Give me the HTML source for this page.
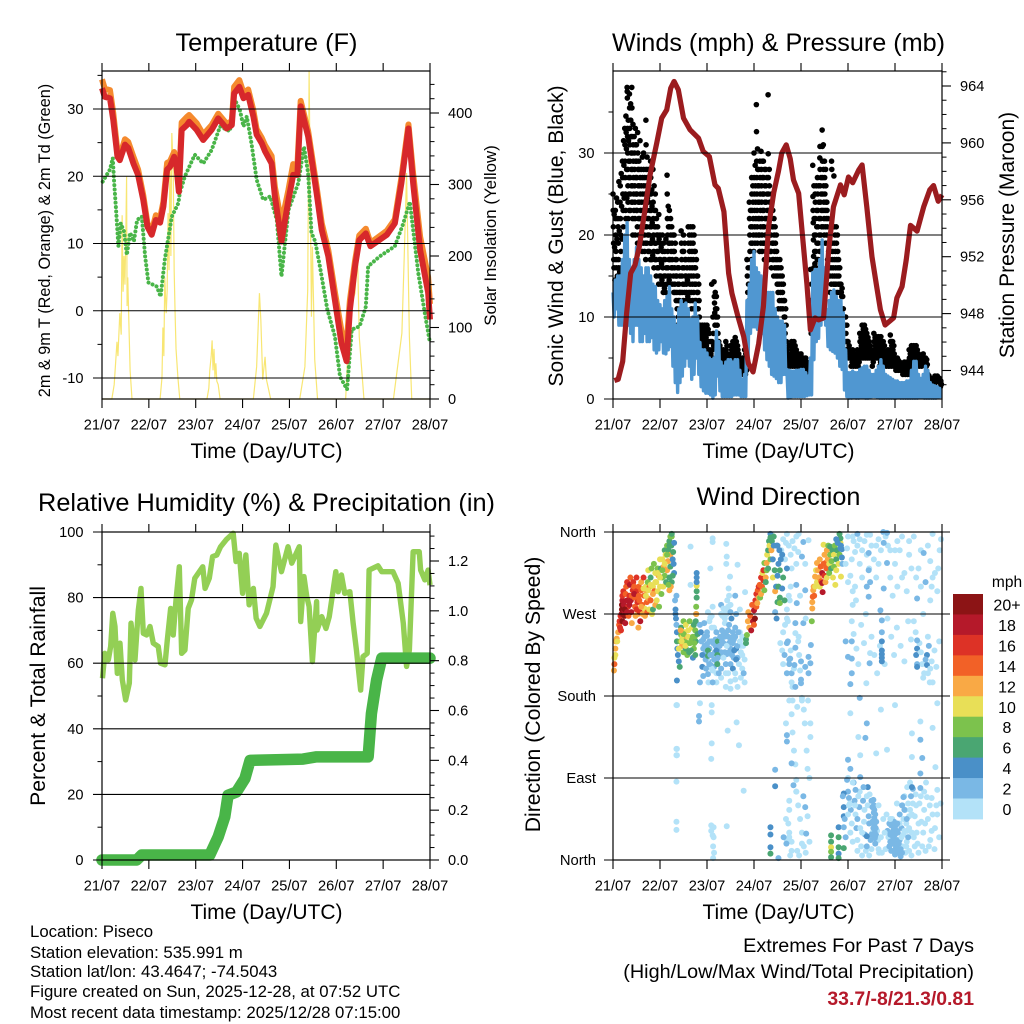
<!DOCTYPE html>
<html lang="en">
<head>
<meta charset="utf-8">
<title>Piseco station weather</title>
<style>
html,body{margin:0;padding:0;background:#fff;}
svg{display:block;font-family:"Liberation Sans",sans-serif;fill:#000;}
</style>
</head>
<body>
<svg id="fig" width="1024" height="1024" viewBox="0 0 1024 1024" xmlns="http://www.w3.org/2000/svg">
  <rect x="0" y="0" width="1024" height="1024" fill="#fff"/>
  <g id="p1"></g>
  <g id="p2"></g>
  <g id="p3"></g>
  <g id="p4"></g>
  <g id="legend"></g>

  <text x="266.5" y="51" font-size="25.4" text-anchor="middle">Temperature (F)</text>
  <text x="778.5" y="51" font-size="25.2" text-anchor="middle">Winds (mph) &amp; Pressure (mb)</text>
  <text x="266.5" y="511" font-size="25.3" text-anchor="middle">Relative Humidity (%) &amp; Precipitation (in)</text>
  <text x="778.5" y="505" font-size="25.2" text-anchor="middle">Wind Direction</text>

  <text x="266.5" y="458" font-size="21" text-anchor="middle">Time (Day/UTC)</text>
  <text x="778.5" y="458" font-size="21" text-anchor="middle">Time (Day/UTC)</text>
  <text x="266.5" y="919" font-size="21" text-anchor="middle">Time (Day/UTC)</text>
  <text x="778.5" y="919" font-size="21" text-anchor="middle">Time (Day/UTC)</text>

  <text transform="translate(50,240.5) rotate(-90)" font-size="16.25" text-anchor="middle">2m &amp; 9m T (Red, Orange) &amp; 2m Td (Green)</text>
  <text transform="translate(496,235.5) rotate(-90)" font-size="16.9" text-anchor="middle">Solar Insolation (Yellow)</text>
  <text transform="translate(563,236) rotate(-90)" font-size="21" text-anchor="middle">Sonic Wind &amp; Gust (Blue, Black)</text>
  <text transform="translate(1014,235) rotate(-90)" font-size="21" text-anchor="middle">Station Pressure (Maroon)</text>
  <text transform="translate(45,696) rotate(-90)" font-size="21.2" text-anchor="middle">Percent &amp; Total Rainfall</text>
  <text transform="translate(540,694.5) rotate(-90)" font-size="21.2" text-anchor="middle">Direction (Colored By Speed)</text>

  <text x="30" y="937" font-size="16.8">Location: Piseco</text>
  <text x="30" y="958" font-size="16.8">Station elevation: 535.991 m</text>
  <text x="30" y="977" font-size="16.8">Station lat/lon: 43.4647; -74.5043</text>
  <text x="30" y="997" font-size="16.8">Figure created on Sun, 2025-12-28, at 07:52 UTC</text>
  <text x="30" y="1018" font-size="16.8">Most recent data timestamp: 2025/12/28 07:15:00</text>

  <text x="974" y="952" font-size="19.8" text-anchor="end">Extremes For Past 7 Days</text>
  <text x="974" y="978" font-size="19.8" text-anchor="end">(High/Low/Max Wind/Total Precipitation)</text>
  <text x="974" y="1005" font-size="19.4" font-weight="bold" text-anchor="end" fill="#b5192a">33.7/-8/21.3/0.81</text>
</svg>

<script>
// ---- shared axis data ----
const dayLabels = ['21/07','22/07','23/07','24/07','25/07','26/07','27/07','28/07'];
const dayTicks = [0,1,2,3,4,5,6,7];

// ---- temperature panel ----
const tempTicks = [-10,0,10,20,30];
const tempMinorTicks = [-5,5,15,25,35];
const solarTicks = [0,100,200,300,400];
const solarMinorTicks = [20,40,60,80,120,140,160,180,220,240,260,280,320,340,360,380,420,440];
const tempDays = [0,.06,.17,.24,.33,.38,.49,.56,.67,.77,.88,.97,1.06,1.15,1.24,1.31,1.39,1.45,1.54,1.59,1.64,1.7,1.81,1.86,2.02,2.16,2.34,2.48,2.66,2.77,2.82,2.93,3.02,3.12,3.23,3.3,3.41,3.48,3.62,3.69,3.83,3.98,4.08,4.17,4.24,4.4,4.58,4.69,4.83,4.97,5.11,5.22,5.29,5.4,5.49,5.63,5.73,6.08,6.25,6.39,6.54,6.64,6.79,6.96,7];
const temp2m = [33.1,31.8,31.6,28.4,22.9,22.4,24.7,24.2,21.9,20.2,16.5,12.5,11.3,13.5,13.1,15.5,21,21.4,22.9,21.4,17.7,26.9,27.6,28.1,26.9,25.4,26.9,28.6,27.1,27.6,32.3,33.3,31.6,32.1,28.9,26.2,24.9,23.7,21.9,17,10.3,16.5,20.2,20.2,30.4,25.9,17.5,12,8.1,1.6,-4.8,-7.5,.15,6.6,10.5,11.5,9.6,11.3,13,19,27.1,19,9,2.7,-1.3];
const temp9m = [34.4,33,32.8,29.4,23.7,23,25.5,25.1,22.9,21,17.2,13,11.8,14.2,13.8,16.2,22,22.2,23.6,22,18.3,28,28.8,29.1,27.9,26.2,27.6,29.3,27.8,28.2,33.3,34.3,32.4,32.9,29.8,27,25.7,24.6,23,18.4,13,18,21.8,21.6,31.2,26.7,18.4,13,9,2.8,-3,-5,1.5,7.4,11.2,12.2,10.1,11.9,13.6,19.8,27.7,20.4,11,5,1];
const dewDays = [.015,.1,.17,.23,.26,.3,.35,.4,.47,.53,.6,.68,.75,.85,.92,.99,1.17,1.25,1.34,1.49,1.63,1.66,1.77,1.98,2.16,2.34,2.52,2.73,2.82,2.94,3.02,3.09,3.19,3.3,3.44,3.59,3.73,3.83,3.98,4.19,4.31,4.4,4.47,4.55,4.65,4.81,4.97,5.08,5.23,5.33,5.5,5.63,5.68,5.93,6.25,6.43,6.57,6.75,6.9,7];
const dewPoint = [19.2,20.2,21,22.7,19,15,9.6,13,11.8,8.3,11.6,10.3,13.5,14,8.1,4.2,3.6,2.1,7.6,14,16,17.5,20,23.2,21.9,23.9,27.4,26.7,31.6,29.9,27.4,28.9,24.9,19.5,16.5,17,13.5,5.1,15,19,24.4,20.4,11.6,10.3,6.6,.15,-3.8,-9.8,-11.7,-2.8,-2.3,.6,6.6,8.1,9.6,13,16.2,5.6,-.8,-4.8];
const solarDays = [0,.21,.26,.32,.34,.38,.41,.43,.45,.47,.49,.51,.525,.535,.55,.58,.6,.64,1.24,1.28,1.3,1.32,1.34,1.37,1.39,1.41,1.43,1.45,1.47,1.49,1.52,1.54,1.56,1.58,1.62,1.66,2.24,2.28,2.3,2.33,2.35,2.37,2.39,2.41,2.43,2.45,2.48,2.52,3.23,3.3,3.36,3.39,3.43,3.48,3.51,3.6,4.22,4.33,4.39,4.42,4.47,4.49,4.54,4.6,5.2,5.29,5.4,5.45,5.49,5.59,6.22,6.4,6.45,6.5,6.56,6.61,7];
const solarValues = [0,0,20,80,60,120,90,257,150,200,160,240,311,130,170,90,40,0,0,30,100,60,170,120,150,260,180,340,200,372,320,180,120,70,30,0,0,15,40,60,82,40,70,30,50,25,20,0,0,45,148,110,27,59,27,0,0,45,152,458,115,213,55,0,0,124,148,213,87,0,0,92,199,316,87,0,0];

// ---- winds panel ----
const windTicks = [0,10,20,30];
const windMinorTicks = [5,15,25,35];
const pressureTicks = [944,948,952,956,960,964];
const pressureMinorTicks = [943,945,946,947,949,950,951,953,954,955,957,958,959,961,962,963,965];
const pressureDays = [.03,.11,.206,.29,.376,.469,.56,.68,.788,.93,1.036,1.143,1.228,1.3,1.39,1.5,1.64,1.82,1.92,2.05,2.17,2.24,2.36,2.46,2.53,2.65,2.78,2.88,2.98,3.1,3.2,3.31,3.42,3.52,3.59,3.686,3.77,3.84,3.95,4.02,4.125,4.2,4.3,4.375,4.48,4.59,4.69,4.84,4.92,5.01,5.1,5.23,5.3,5.4,5.51,5.62,5.69,5.79,5.97,6.04,6.15,6.24,6.33,6.47,6.61,6.74,6.82,6.92,7];
const pressureValues = [943.29,943.38,944.63,948.03,950.84,951.42,952.71,955.29,957.75,959.98,961.74,962.32,963.85,964.32,963.73,961.74,960.92,960.33,959.4,959.04,957.05,956.8,955.17,950.84,949.43,947.9,946.4,944.5,943.9,945.9,948.5,954.1,956.5,958,959.28,959.86,958.9,957.4,956.46,953.9,950.1,946.85,947.7,947.56,947.7,952.5,955.5,957.05,956.35,957.6,957.2,958.1,958.45,955.5,952,949.7,948.26,947.2,947.7,949.1,949.9,951.8,954.2,953.8,955.5,956.7,957,955.9,956.35];
const windStepDays = 0.05;
const windHigh = [13,14.5,15,15,17,20,21.5,17,15,17,18.5,17,16,15,16,16,15,14,13.7,12,11.5,11,12,12.5,13.7,11,10,9,11,12,11.5,11.7,11,9.7,10,11.7,10,6.9,6,6,5.6,5,4.8,5,8.3,7,4.5,4,4.5,4.8,4.8,4.5,4.8,4.8,3.5,2.4,3,12,14,17,18,16,15.4,15,14,13,13,13,13,11,10,9.5,9.5,9,3.6,3.5,3.4,3.4,3.5,3.5,3.6,3.6,3.2,2.8,5,15.4,15.8,15.8,17,19.4,16,10.9,12,13,13.3,12.5,12,12,10.5,6,3.2,3.2,3.4,3.2,3.2,3.6,3.8,4,4,3.5,3,3,3.5,4,4.8,4,3,2.8,2.6,2.4,2.2,2.2,2,2,2,2.2,2.2,3.5,4.6,4.6,3,2.5,3,4,3.5,2,1.7,1.6,1.5,1.3];
const windLow = [10,11,9,9,9,10,9,8,7,9,9,7,7,8,7,7,7.5,6,5.6,6,7,5.6,5.5,6,6.4,4,2,.8,2,2.8,4,5,4,2.4,3,5,3,1.5,1,.7,.7,.5,.1,.5,2.8,1,.3,.3,.3,.3,.3,.5,.5,.5,.3,.3,.3,5,8,8.8,8.8,8.5,8.4,8,6,4.8,4,3,2.8,2.5,2,2,3,3,.1,.2,.3,.3,.3,.3,.3,.3,.4,.5,.5,4.8,7,7.4,9,9.7,9,6.4,6,5.8,5.6,5,4,3.6,1.1,.3,.1,.1,.2,.1,.1,.2,.2,.1,.1,.2,.3,.3,.2,.1,.1,.1,.1,.1,.1,.1,.1,.2,.1,.1,.1,.1,.1,.1,.1,.1,.2,.2,.1,.1,.1,.1,.1,.1,.2,.1];
const gustBins = [
[25,23,21,19,17,16],[23,22,20,18,17,16],[24,22,21,19,17,16],[24,26,22,20,18,16],[29,27,25,23,21],[33,31,29,27,25,23,22],[38,37.5,36.7,33,32,30,28,26,24,22],[37.2,35.5,33,31,29,27,25,23],[38,35.5,32,30,28,26,24,22,20],[32,30,28,26,24,22,20],
[31,29,27,25,23,21,19],[29,28,26,24,22,20],[28,26,24,22,20,18],[30,28,26,24,22,20,18],[34,31,28,26,23,21,19],[28,26,24,22,20,18],[29,27,25,23,21,19,17],[28,24,22,20,18,16],[25,23,21,19,17,15],[21,20,18,16,14],
[20,19,17,15,14],[20,18,16,14,13],[18,17,15,13],[27.3,25,22,20,18,16,15],[23,21,19,17,15,14],[21,19,17,16,14],[20,18,16,14,13],[17,15,13,11,9],[16,14,13,12,10],[20.5,19,17,15,13],
[20,18,16,14,13],[17,15,14,13,12],[21,19,17,15,13],[21,19,17,15,13,11],[21,19,17,15,13,11],[18,16,14,12],[15,13,11,9],[9,8,7],[9,8,7,6],[9,8,7,6],
[9,8,7,6],[8,6,5],[14,7,6,5],[14.3,12.5,11.7,10.5,9],[12.5,11,9],[7,6,5],[6,5,4],[6,5,4.5],[7,6,5],[5,4],
[6.5,5.5,5],[7,6,5],[7.5,6.5,5.5],[6.5,6,5],[5,4,3.5],[5,4,3],[6,5,4,3],[17,15,13],[24,22,20,18,16],[27,25,23,21,19,17],
[30,27,25,23,21,19],[35.9,32.6,29,27,25,23,21,19],[28,26,24,22,20,18],[30.2,28,26,24,22,20,18],[29,27,25,23,21,19,17],[28,26,24,22,20,18],[37.1,29.9,27,25,23,21,19,17],[24,22,20,18,16],[23,21,19,17,15],[21,19,17,15],
[17,15,13,11],[17,15,13,11],[15,13,11,9],[12,10,8,6],[6,5,4],[6.5,5,4],[7,6,5,4],[7,6,5,4],[6,5,4],[5.5,4.5,4],
[5.5,5,4],[5,4.5,3.7],[5,4,3.5],[4,3.5],[15.8,12,8],[28.5,24.7,23,21.5,19.4,17.4,16],[25,24,22,20,18,16],[27,25,23,21,19,17],[29.4,30.8,28,26,24,22,20,18],[32.8,30.8,29,27,25,23,21],
[29,27,25,23,21,19],[24,23,21,19,17,15],[20,19,17,15,13],[29,28,19,17,15],[27.2,21,19,17,15,14],[21,19,17,15,13],[17,15,14,13],[14,13,12.5],[11,10,9,8],[10,8,7,6],
[7,6,5],[6,5,4],[6,5,4],[5.5,4.5,4],[6,5,4],[8,7,6,5],[9,8,7,6,5],[9,8,7,6,5],[8,7,6,5],[7,6,5],
[6,5,4],[8,7,6,5],[7.6,7,6,5],[7.6,7,6,5,4],[7.6,7,6,5],[7,6,5,4.5],[5.5,5,4],[6,5,4],[7.8,7,6,5,4],[7,6,5,4],
[5,4.5,4,3.5],[5,4.5,4,3.5],[4.5,4,3.5],[4,3.5,3],[4.5,4,3.5,3],[4.5,4,3.5,3],[6,5,4,3],[6.5,5.5,4.5],[6.5,5.5,4.5],[6.5,6,5],
[5.5,5,4],[5,4.5,4],[5.5,5,4.5],[5,4.5,4],[3,2.5,2],[2.5,2],[2.5,2],[2.8,2.3],[2.8,2.3],[2.5,2,1.5]
];
const gustBinsLate = [
[22.5,18.5,14.5],[24.5,19.5,15],[26.5,20.5,15.5],[27.5,23.5,19.5],[31.5,28.5,24.5,19.5],[34.5,32.5,30.5,28,24.5],[34,31.5,29,27,25,23],[36,34,32,30,28,26,24],[33.5,31,29,27,25,23],[33,31,29,27,25,23],
[32.5,30,28,26,24,22,20],[31.5,27,25,23,21,19],[29.5,27,25,23,21,19],[27,25,23,21,19,17],[29.5,27,24.5,22,20,18],[27,25,23,21,19,17],[25.5,23.5,21.5,19.5,17.5],[26,23,21,19,17],[22,20,18,16],[22.5,19.5,17,15],
[18.5,16.5,14.5],[19,17,15,13.5],[19.5,16,14],[23.5,21,19,17,14.5],[22,20,18,16],[20,18,15,13],[19,17,15,12],[16,14,12,10],[15,13,11],[18,16,14,12],
[19,17,15,12],[16,14.5,12.5],[20,18,16,14,12],[20,18,16,14,12],[20,18,16,14,12],[17,15,13,11],[14,12,10,8],[8.5,7.5,6.5],[8.5,7.5,6.5,5.5],[8.5,7.5,6.5,5.5],
[8.5,7,5.5],[7,5.5,4.5],[10,8,6.5],[13,11,10,8],[10,8,6],[6.5,5.5,4.5],[5.5,4.5,3.5],[5.5,4,3.5],[6.5,5.5,4.5],[4.5,3.5],
[6,5,4],[6.5,5.5,4.5],[7,6,5],[5.5,4.5],[4.5,3.5],[4.5,3.5],[5.5,4.5,3.5],[16,14,12],[23,21,19,17],[26,24,22,20,18],
[28.5,26,24,22,20],[30.5,28,26,24,22,20],[29,27,25,23,21,19],[29,27,25,23,21,19],[28,26,24,22,20,18],[27,25,23,21,19],[28,26,24,22,20,18],[25,23,21,19,17],[22,20,18,16],[20,18,16,14],
[16,14,12],[16,14,12],[14,12,10],[11,9,7],[5.5,4.5],[5.5,4.5],[6.5,5.5,4.5],[6.5,5.5,4.5],[5.5,4.5],[5,4],
[5,4.5],[4.5,4],[4.5,3.7],[3.8,3],[14,10],[26,22,20,18,16.5],[26,23,21,19,17],[26,24,22,20,18],[27,25,23,21,19],[31,28,26,24,22,20],
[28,26,24,22,20],[22,20,18,16],[21,18,16,14],[18,16,14],[20,18,16,14],[20,18,16,14],[16,14,13],[13.5,12.5],[10,9],[9,7,6],
[6.5,5.5],[5.5,4.5],[5.5,4.5],[5,4.5],[5.5,4.5],[7.5,6.5,5.5],[8.5,7.5,6.5,5.5],[8.5,7.5,6.5,5.5],[7.5,6.5,5.5],[6.5,5.5],
[5.5,4.5],[7.5,6.5,5.5],[7,6.5,5.5],[7,6.5,5.5,4.5],[7,6.5,5.5],[6.5,5.5,4.8],[5,4.5],[5.5,4.5],[7,6.5,5.5,4.5],[6.5,5.5,4.5],
[4.7,4.2,3.7],[4.7,4.2,3.7],[4.2,3.7],[3.8,3.2],[4.2,3.7,3.2],[4.2,3.7,3.2],[5.5,4.5,3.5],[6,5,4],[6,5,4],[6,5.5,4.5],
[5,4.5],[4.8,4.2],[5,4.5],[4.8,4.2],[2.8,2.2],[2.2,1.8],[2.2,1.8],[2.6,2.1],[2.6,2.1],[2.2,1.8]
];

// ---- humidity / precipitation panel ----
const humidityTicks = [0,20,40,60,80,100];
const humidityMinorTicks = [10,30,50,70,90];
const rainTicks = [0,.2,.4,.6,.8,1,1.2];
const rainTickLabels = ['0.0','0.2','0.4','0.6','0.8','1.0','1.2'];
const rainMinorTicks = [.05,.1,.15,.25,.3,.35,.45,.5,.55,.65,.7,.75,.85,.9,.95,1.05,1.1,1.15,1.25,1.3];
const humidityDays = [.01,.06,.135,.185,.23,.277,.327,.384,.434,.505,.583,.619,.704,.775,.832,.882,.953,1.024,1.095,1.2,1.25,1.344,1.394,1.465,1.52,1.58,1.65,1.7,1.77,1.84,1.91,1.98,2.15,2.2,2.29,2.36,2.45,2.53,2.66,2.8,2.86,2.93,3,3.07,3.14,3.23,3.29,3.37,3.51,3.65,3.71,3.83,3.97,4.05,4.21,4.24,4.31,4.37,4.42,4.49,4.58,4.59,4.69,4.78,4.85,4.99,5.04,5.11,5.18,5.29,5.36,5.43,5.52,5.57,5.66,5.7,5.89,5.97,6.21,6.32,6.43,6.5,6.56,6.64,6.77,6.8,6.89,6.96,7];
const humidityValues = [55.4,63,61,65.1,75.2,71.2,56.9,66.1,54.9,48.8,53.9,72.2,61,76.2,82.8,69.1,68.6,71.2,66.1,65.1,60,59.5,67.1,76.7,68.6,79.3,89.4,63,64,76.7,79.3,85.9,89.4,82.8,85.9,92.5,93,95.5,97.8,99.6,91,93.5,81.3,93,77.8,82.8,73.7,71.2,75.2,83.3,96,87.9,95.5,90.5,95.5,72.7,86.4,80.3,77.3,60.5,78.8,70.1,74.2,70.6,74.2,87.9,81.8,86.9,81.3,81.8,72.2,64,51.8,62,63,88.4,89.7,87.9,87.9,84.4,72.2,59,64,94,94,88.4,85.4,88.4,83.8];
const rainDays = [0,.74,.846,2.3,2.48,2.62,2.69,2.87,3.05,3.16,4.29,4.58,5.68,5.75,5.86,5.97,7];
const rainValues = [0,0,.02,.02,.093,.173,.26,.273,.327,.4,.405,.414,.414,.588,.722,.81,.81];

// ---- wind direction panel (rows of ten readings) ----
const directionTicks = [0,90,180,270,360];
const directionLabels = ['North','East','South','West','North'];
const dirDays = [
1.92,1.95,1.98,2,2.03,2.05,2.08,2.1,2.13,2.15,
2.18,2.2,2.22,2.25,2.28,2.3,2.32,2.35,2.38,2.4,
2.42,2.45,2.47,2.5,2.52,2.55,2.57,2.6,2.62,2.65,
2,2.1,2.2,2.3,2.4,2.5,2.6,2.7,2.72,2.75,
2.05,2.07,2.1,2.12,2.02,2.4,2.42,2.43,2.45,2.47,
3.56,3.6,3.62,3.66,3.7,3.72,3.74,3.76,3.78,3.8,
3.58,3.62,3.66,3.7,3.74,3.78,3.82,3.86,3.9,3.94,
3.94,3.96,3.98,4,4.02,4.06,4.08,4.12,4.14,4.18,
3.9,3.94,3.98,4.02,4.06,4.1,4.14,4.18,3.92,3.96,
5.1,5.15,5.2,5.25,5.3,5.35,5.4,5.45,5.5,5.55,
5.6,5.65,5.7,5.75,5.8,5.85,5.9,5.95,6,6.05,
6.1,6.15,6.2,6.3,6.35,6.45,6.55,6.6,6.75,6.8,
5.08,5.12,5.18,5.22,5.28,5.34,5.38,5.5,5.56,5.62,
5.68,5.78,5.84,5.92,5.98,6.04,6.12,6.2,6.28,6.34,
6.4,6.44,6.52,6.58,6.62,6.7,6.74,6.84,6.88,6.94,
5,5.02,5.04,5.06,5.08,5.12,5.14,5.16,5.18,5.2,
5.22,5.24,5.26,5.28,5.32,5.34,5.36,5.38,5.42,5.44,
5.46,5.48,5.5,5.52,5.54,5.56,5.6,5.62,5.64,5.66,
5.84,5.86,5.88,5.9,5.92,5.94,5.96,5.98,6.02,6.04,
6.06,6.08,6.1,6.12,6.14,6.16,6.18,6.22,6.24,6.26,
6.32,6.36,6.38,6.42,6.44,6.46,6.48,6.52,6.56,6.58,
6.62,6.64,6.66,6.72,6.74,6.78,6.8,6.84,6.88,6.94,
.02,.03,.03,.05,.05,.06,.08,.09,.11,.13,
.14,.15,.16,.17,.18,.19,.19,.2,.2,.21,
.2,.22,.23,.24,.25,.26,.27,.28,.3,.3,
.32,.33,.35,.36,.37,.38,.39,.4,.42,.43,
.45,.46,.47,.48,.5,.5,.52,.53,.54,.55,
.56,.57,.58,.6,.6,.62,.63,.65,.66,.67,
.68,.7,.7,.72,.73,.74,.75,.75,.77,.78,
.8,.8,.82,.83,.85,.85,.87,.88,.9,.9,
.92,.93,.95,.95,.97,.98,1,1,1.02,1.03,
1.05,1.05,1.07,1.08,1.1,1.1,1.12,1.13,1.15,1.15,
1.17,1.18,1.2,1.2,1.22,1.22,1.24,1.25,1.25,1.27,
1.29,1.3,1.27,1.23,1.2,1.18,1.22,1.25,1.28,1.3,
.25,.3,.35,.4,.45,.5,.55,.6,.65,.7,
.75,.8,.85,.9,.95,1,1.05,1.1,1.15,1.2,
1.32,1.33,1.33,1.34,1.35,1.35,1.36,1.36,1.37,1.38,
1.4,1.42,1.45,1.43,1.45,1.47,1.48,1.5,1.5,1.52,
1.53,1.55,1.55,1.57,1.58,1.6,1.6,1.62,1.63,1.65,
1.4,1.46,1.5,1.54,1.6,1.64,1.68,1.72,1.76,1.44,
1.66,1.68,1.7,1.7,1.72,1.73,1.74,1.75,1.75,1.76,
1.77,1.77,1.77,1.78,1.78,1.78,1.78,1.78,1.78,1.8,
1.85,1.87,1.88,1.9,1.9,1.92,1.92,1.94,1.95,1.97,
1.98,2,2,2.02,2.02,2.02,2.03,2.05,2.05,2.07,
2.1,2.1,2.12,2.12,2.15,2.15,2.17,2.18,2.2,2.2,
2.2,2.22,2.22,2.23,2.23,2.25,2.27,2.28,2.3,2.3,
2.32,2.33,2.35,2.35,2.37,2.38,2.4,2.4,2.42,2.42,
2.45,2.45,2.47,2.47,2.5,2.5,2.5,2.52,2.53,2.55,
2.55,2.57,2.58,2.6,2.6,2.62,2.62,2.65,2.65,2.67,
2.68,2.7,2.72,2.72,2.75,2.75,2.77,2.8,2.8,2.78,
1.36,1.36,1.36,1.36,1.85,1.85,1.83,1.83,2.1,2.1,
1.35,1.35,1.35,1.35,1.35,1.35,2.09,2.09,2.12,2.13,
2.09,2.14,2.14,2.15,2.13,2.42,2.78,2.63,2.68,2.44,
2.12,2.12,2.41,2.42,2.41,2.49,2.46,2.65,2.07,1.65,
1.65,2.81,2.1,2.3,2.35,2.38,2.5,2.5,2.6,2.7,
2.83,2.83,2.85,2.87,2.88,2.9,2.92,2.94,2.96,2.98,
3,3,3.02,3.03,3.05,3.05,3.07,3.08,3.1,3.1,
3.12,3.13,3.15,3.15,3.17,3.18,3.2,3.2,3.22,3.22,
3.25,3.25,3.27,3.27,3.28,3.3,3.3,3.32,3.33,3.35,
3.35,3.35,3.37,3.38,3.4,3.4,3.42,3.42,3.44,3.45,
3.47,3.48,3.5,3.5,3.52,3.52,3.54,3.55,3.55,3.57,
3.45,3.48,3.5,3.55,3.6,3.6,3.62,3.65,3.68,3.7,
3.35,3.35,3.35,3.45,3.45,3.35,3.52,3.7,3.7,3.68,
3.7,3.75,3.78,3.72,3.8,3.75,3.8,3.82,3.85,3.82,
3.62,3.65,3.7,3.75,3.8,3.82,3.85,3.88,3.9,3.9,
3.75,3.75,3.73,3.75,3.8,3.8,3.75,3.77,3.68,3.7,
3.8,4.2,4.2,4.05,4.09,4.11,4.02,3.63,3.69,3.84,
4.05,4.02,4.16,3.9,3.95,4.09,3.9,4.09,3.91,3.98,
3.88,3.88,3.7,3.88,3.77,3.86,4,4.16,4.09,4.2,
4.16,4,3.88,4.21,4.05,3.95,4.1,4.02,3.92,4.15,
4.23,4.24,4.24,4.25,4.26,4.27,4.28,4.3,4.3,4.32,
4.34,4.34,4.36,4.38,4.4,4.4,4.42,4.43,4.45,4.45,
4.46,4.48,4.48,4.5,4.5,4.52,4.52,4.54,4.55,4.55,
4.57,4.58,4.6,4.6,4.62,4.62,4.64,4.65,4.67,4.68,
4.7,4.7,4.72,4.73,4.75,4.75,4.77,4.8,4.82,4.84,
4.84,4.85,4.84,4.87,4.82,4.78,4.87,4.88,4.75,4.85,
4.64,4.64,4.64,4.64,4.64,4.8,4.8,4.8,4.8,4.8,
4.91,4.91,4.91,4.91,4.91,4.89,4.93,4.95,5,5.02,
5,5.05,5.1,5.1,5.15,5.2,5.2,5.25,5.3,5.3,
5.35,5.4,5.4,5.45,5.45,5.5,5.5,5.52,5.52,5.54,
5.55,5.55,5.56,5.56,5.57,5.57,5.58,5.58,5.59,5.6,
5.4,5.42,5.65,5.65,5.7,5.72,5.75,5.78,5.8,5.82,
5.88,5.9,5.92,5.94,5.95,5.96,5.97,5.98,5.99,6,
6,6.02,6.04,6.05,6.06,6.08,6.1,6.12,6.14,6.15,
6.16,6.18,6.2,6.2,6.22,6.24,6.25,6.26,6.28,6.3,
6.3,6.32,6.34,6.35,6.36,6.38,6.4,6.42,6.45,6.5,
6.5,6.55,6.6,6.62,6.65,6.7,6.75,6.78,6.85,6.9,
4.95,4.98,5,5.05,5.08,5.1,5.12,5.15,5.17,5.2,
5.4,5.47,5.83,5.76,5.83,5.44,5.44,5.47,5.4,5.76,
5.44,5.69,5.72,6.47,6.65,6.61,5.3,5.25,5.6,5.65,
5.9,6,6.05,6.15,6.25,6.3,6.4,6.5,6.55,6.7,
6.75,6.8,6.85,6.9,6.95,6.98,5,5.1,6.78,6.92,
4.95,5.08,5,5.08,5.08,5.05,5.39,5.47,5.46,5.72,
5.72,5.72,5.72,5.72,5.72,6.47,6.47,6.45,6.47,6.47,
6.68,6.68,6.65,6.72,6.7,6.75,6.55,6.6,6.78,6.8,
5.05,5.4,5.37,5.22,5,5.05,5.26,5.6,5.83,6.54,
6.54,6.58,6.36,6.36,6.9,6.86,5.25,5.7,6,6.8,
6.54,6.36,6.54,5.26,4.98,5.16,5.33,6.18,6.04,6.68,
6.9,6.97,6.2,6.15,6.25,6.3,6.1,6.05,6.28,5.9
];
const dirDegrees = [
242,235,228,246,218,232,214,225,238,212,
242,218,232,238,224,228,252,238,228,248,
226,252,238,232,244,238,222,245,232,222,
220,210,195,200,205,188,198,250,235,245,
262,266,255,278,272,272,275,285,278,290,
238,230,215,258,275,262,290,285,300,320,
340,352,330,358,345,335,350,342,355,338,
240,225,208,198,175,165,150,120,100,90,
75,60,45,30,15,8,48,20,10,5,
355,300,345,325,310,350,335,320,345,330,
310,325,340,360,355,345,310,290,340,300,
340,355,315,350,320,310,340,270,285,310,
262,248,232,215,258,238,270,245,225,205,
235,215,265,245,225,255,235,218,262,242,
262,250,238,215,205,245,195,230,212,240,
75,68,62,55,40,85,65,50,35,22,
70,58,35,15,65,42,28,10,60,48,
72,22,12,30,66,55,42,32,22,8,
32,25,40,28,38,45,32,42,38,32,
12,8,22,4,35,15,28,8,15,32,
55,30,62,48,72,30,18,62,42,15,
75,40,85,15,60,32,50,12,60,25,
208,215,222,225,232,240,243,240,250,258,
262,255,268,252,270,275,280,262,285,270,
290,295,280,273,268,260,292,300,305,285,
278,268,290,302,310,285,272,260,296,305,
300,288,278,268,310,295,283,270,255,300,
285,272,262,296,305,280,270,310,290,276,
268,296,300,283,272,305,318,287,275,300,
310,285,320,270,300,275,325,295,315,280,
305,285,320,295,312,278,330,300,320,292,
310,330,300,322,340,312,335,305,345,318,
328,340,350,310,335,322,345,305,355,330,
325,315,312,300,296,302,355,358,338,348,
275,272,280,290,292,275,290,278,298,290,
296,302,292,305,315,310,318,325,335,345,
285,275,270,265,258,290,250,240,232,225,
218,212,247,240,255,235,245,262,228,250,
240,258,232,245,225,252,238,228,262,244,
232,240,248,235,245,238,242,232,240,252,
230,255,245,222,258,238,245,252,225,262,
270,278,270,288,295,301,310,305,315,248,
258,250,240,225,212,232,202,260,245,220,
210,250,237,224,230,204,195,215,240,225,
268,240,208,195,220,255,228,235,205,250,
230,225,215,222,240,205,235,245,210,270,
240,268,250,222,245,260,190,215,235,270,
245,205,228,258,215,240,196,265,225,250,
210,242,230,255,205,220,270,190,235,250,
215,240,200,228,225,210,235,220,195,205,
197,170,122,115,195,172,158,152,170,128,
170,122,115,86,42,33,38,32,27,15,
111,36,25,8,2,37,76,151,126,142,
353,349,347,333,325,311,298,324,320,344,
302,294,162,280,276,265,280,272,290,275,
238,242,247,262,272,255,268,252,280,262,
274,258,265,285,278,292,282,296,288,300,
302,288,310,292,300,315,307,318,296,326,
310,305,326,318,335,340,320,350,345,330,
358,354,340,350,330,310,345,355,318,295,
300,345,312,345,325,300,340,318,288,330,
272,265,283,282,335,298,310,285,348,320,
36,28,14,81,99,7,2,137,130,150,
205,220,230,240,205,215,195,190,210,175,
250,225,265,175,160,140,120,105,88,75,
65,55,40,30,20,10,25,5,45,22,
106,150,135,70,58,29,18,25,18,82,
349,333,351,325,358,325,302,296,282,290,
260,249,238,233,221,214,218,223,212,216,
205,194,190,236,260,245,265,178,168,175,
262,276,283,289,296,300,290,311,300,318,
326,305,318,310,330,300,322,306,315,304,
294,346,325,335,312,326,305,320,340,310,
330,345,315,325,344,335,320,328,340,310,
335,322,345,302,330,318,340,325,335,348,
353,311,342,341,358,348,332,325,352,345,
27,20,14,9,3,36,25,14,7,2,
73,58,48,36,13,70,45,25,90,60,
50,30,85,20,60,45,10,75,30,5,
55,70,15,40,5,65,28,58,42,35,
60,52,46,38,30,24,18,50,35,27,
26,80,60,12,25,8,45,30,12,50,
15,20,10,30,18,25,10,35,20,6,
28,14,22,8,30,18,40,12,25,8,
60,45,32,70,55,40,20,80,62,48,
10,85,70,5,50,78,25,15,60,40,
8,70,30,55,10,45,22,68,35,50,
325,342,355,312,330,295,350,338,285,358,
357,357,359,348,326,337,318,305,300,298,
289,274,263,287,305,337,340,352,345,352,
340,325,350,310,295,335,355,320,300,345,
328,358,315,295,340,352,305,280,300,320,
240,240,223,221,205,193,194,227,216,250,
240,230,226,222,218,241,232,225,215,212,
225,214,220,235,205,210,228,200,218,195,
161,150,134,135,110,100,115,117,121,152,
132,112,113,139,172,102,178,165,170,145,
95,80,79,91,88,77,80,69,62,69,
77,62,55,60,45,35,50,40,25,45
];
const dirSpeeds = [
3,3,3,2,3,2,3,3,3,2,
2,3,3,3,3,2,2,3,2,3,
3,3,3,3,3,3,3,3,4,3,
1,0,0,1,0,1,1,0,0,0,
1,1,0,0,1,0,0,1,0,0,
0,0,1,0,0,1,0,0,0,0,
1,0,0,0,1,0,0,1,0,0,
0,1,1,2,0,0,0,0,1,0,
0,1,0,1,0,1,0,0,0,1,
0,1,0,1,0,0,1,0,0,1,
1,0,1,2,1,1,0,0,1,0,
1,0,0,1,0,1,0,1,0,1,
1,0,0,1,0,1,0,0,1,0,
1,0,1,0,0,1,0,1,0,1,
1,1,0,1,0,0,1,0,0,1,
2,2,1,2,1,2,2,1,2,1,
1,2,1,0,2,1,2,1,1,2,
1,2,1,1,2,2,2,1,1,0,
2,1,2,2,2,1,2,2,2,2,
2,2,2,2,2,1,1,1,0,1,
1,0,1,0,0,1,0,0,1,0,
0,1,0,0,1,0,0,1,0,0,
12,14,10,11,12,12,12,10,13,15,
16,17,16,16,18,20,20,20,19,20,
17,16,18,18,20,19,15,14,16,18,
17,14,16,18,15,19,18,12,16,17,
14,14,15,12,16,17,16,13,12,15,
15,17,18,14,12,15,13,16,14,10,
13,12,10,14,15,8,10,12,11,14,
7,14,9,10,11,7,8,15,10,12,
11,10,8,10,12,8,10,11,6,9,
9,11,10,12,7,8,10,6,9,13,
12,6,6,6,12,6,6,6,8,5,
4,5,6,13,12,8,8,7,6,5,
20,19,18,15,19,17,14,12,11,10,
11,10,12,10,11,10,9,10,8,7,
3,4,4,4,3,3,5,6,4,4,
5,6,8,8,6,12,10,9,8,11,
8,10,7,13,8,10,8,6,9,10,
10,11,9,10,10,8,9,8,7,12,
7,11,9,4,7,8,8,9,6,6,
7,8,12,7,6,10,4,4,4,6,
3,4,2,4,4,2,2,2,2,3,
2,2,2,6,6,3,1,2,2,2,
0,2,1,2,2,0,3,2,0,3,
4,7,7,3,6,2,3,3,2,1,
2,1,2,0,3,1,0,2,1,1,
2,1,2,3,2,3,1,4,3,2,
4,3,4,3,1,4,2,0,2,3,
0,1,1,0,0,1,0,0,0,2,
4,0,0,0,2,1,2,2,0,0,
0,0,0,0,0,0,0,0,0,0,
0,0,0,0,0,0,0,0,0,0,
0,0,0,0,0,0,0,0,0,0,
0,0,0,2,1,1,0,3,3,1,
6,7,8,12,13,12,14,18,15,19,
19,15,20,16,15,16,12,14,13,16,
15,8,17,12,15,10,17,16,9,8,
12,6,12,8,10,6,6,7,11,8,
4,6,12,6,5,11,4,7,7,13,
5,4,5,4,5,7,4,6,6,5,
3,4,7,8,4,5,6,7,0,4,
4,4,4,4,3,7,3,3,3,1,
3,2,1,2,3,3,1,1,1,1,
1,2,0,0,0,0,0,1,0,0,
0,0,0,0,0,1,1,0,1,0,
3,0,0,2,3,3,0,2,3,3,
2,2,0,0,0,0,3,3,3,0,
2,1,3,3,2,3,2,3,3,2,
3,3,3,3,3,1,1,1,0,0,
8,12,12,15,12,12,14,12,11,11,
13,11,12,13,12,11,15,14,18,19,
18,11,15,13,16,15,13,14,12,10,
12,9,8,11,6,8,7,9,6,10,
11,8,9,10,7,11,6,10,8,10,
6,10,5,5,6,5,5,3,4,4,
7,7,10,8,7,4,6,6,4,6,
4,4,4,3,6,3,2,2,1,1,
1,0,0,1,1,2,1,0,1,0,
1,1,2,2,1,2,2,2,2,2,
2,2,2,2,2,2,2,2,2,2,
4,4,0,1,1,0,0,1,1,0,
2,2,2,2,2,2,2,2,2,2,
2,2,2,2,2,2,1,2,1,2,
1,0,0,1,0,1,0,1,0,0,
0,0,3,0,0,3,0,0,1,0,
0,1,0,0,1,0,0,0,0,0,
0,1,0,0,1,0,1,0,1,2,
1,1,2,2,2,3,3,3,2,2,
3,2,2,2,2,2,0,1,1,1,
0,0,1,0,0,0,0,1,0,0,
0,0,0,0,0,1,1,0,0,0,
3,3,3,3,3,3,0,0,3,3,
4,4,4,4,4,3,4,4,3,4,
4,4,3,3,1,0,1,1,0,0,
0,3,3,0,3,3,0,0,0,1,
3,3,1,0,0,0,3,1,0,0,
3,4,3,3,2,2,2,2,1,0,
0,0,2,2,2,1,2,2,2,1
];
const legendColors = ['#8c1415','#b5192a','#dd3226','#f26127','#f9a945','#e8df57','#7cc24d','#4aa672','#4a90c8','#7ab8e5','#b3e2f8'];
const legendLabels = ['20+','18','16','14','12','10','8','6','4','2','0'];

// ---- axis functions ----
const linear = (d0,d1,r0,r1) => v => r0 + (v-d0)*(r1-r0)/(d1-d0);
const xLeft = linear(0,7,102,430);
const xRight = linear(0,7,613,942);
const yTemp = linear(-10,30,378,109);
const ySolar = linear(0,400,399,113);
const yWind = linear(0,40,399,71);
const yPressure = linear(944,964,370.5,86);
const yHumidity = linear(0,100,860,532);
const yRain = linear(0,1.2,860,561);
const yDirection = linear(0,360,860,532);

const NS = 'http://www.w3.org/2000/svg';
function make(tag, parent, attrs){
  const el = document.createElementNS(NS, tag);
  for (const k in attrs) el.setAttribute(k, attrs[k]);
  parent.appendChild(el);
  return el;
}
function pathFrom(xs, ys, xScale, yScale){
  const n = Math.min(xs.length, ys.length);
  let d = '';
  for (let i = 0; i < n; i++) d += (i ? 'L' : 'M') + xScale(xs[i]).toFixed(2) + ' ' + yScale(ys[i]).toFixed(2);
  return d;
}
function line(parent, x1, y1, x2, y2, w){
  return make('line', parent, {x1:x1, y1:y1, x2:x2, y2:y2, stroke:'#000', 'stroke-width':w});
}
function label(parent, x, y, str, anchor, size){
  const t = make('text', parent, {x:x, y:y, 'text-anchor':anchor, 'font-size':size});
  t.textContent = str;
  return t;
}

// draws frame, day ticks and labels for one panel
function drawAxes(group, x0, x1, y0, y1, xScale){
  const frame = make('rect', group, {x:x0, y:y1, width:x1-x0, height:y0-y1, fill:'none', stroke:'#000', 'stroke-width':1.2});
  
  
  dayTicks.forEach((d, i) => {
    const x = xScale(d);
    const bottom = line(group, x, y0, x, y0+9, 1.1);
    
    
    const top = line(group, x, y1, x, y1-8, 1.1);
    
    
    const t = label(group, x, y0+30.5, dayLabels[i], 'middle', 14.6);
    
    
  });
}
function drawLeftAxis(group, x0, x1, ticks, minor, scale, labels){
  ticks.forEach((v, i) => {
    const g = line(group, x0-9, scale(v), x1, scale(v), 1.1);
    
    
    const t = label(group, x0-18.5, scale(v)+5, labels ? labels[i] : String(v), 'end', 14.6);
    
    
  });
  minor.forEach(v => {
    const m = line(group, x0-4.5, scale(v), x0, scale(v), 1);
    
    
  });
}
function drawRightAxis(group, x1, ticks, minor, scale, labels){
  ticks.forEach((v, i) => {
    const m = line(group, x1, scale(v), x1+9, scale(v), 1.1);
    
    
    const t = label(group, x1+18, scale(v)+5, labels ? labels[i] : String(v), 'start', 14.6);
    
    
  });
  minor.forEach(v => {
    const m = line(group, x1, scale(v), x1+4.5, scale(v), 1);
    
    
  });
}
function speedColor(s){
  const bin = Math.min(10, Math.max(0, Math.floor(s/2)));
  return legendColors[10-bin];
}

// ---- panel 1: temperature ----
const p1 = document.getElementById('p1');
const solarLine = make('path', p1, {d:pathFrom(solarDays, solarValues, xLeft, ySolar), fill:'none', stroke:'#f7e25a', 'stroke-width':1.2, 'stroke-opacity':.85});


const dewLine = make('path', p1, {d:pathFrom(dewDays, dewPoint, xLeft, yTemp), fill:'none', stroke:'#49b548', 'stroke-width':4, 'stroke-linecap':'round', 'stroke-dasharray':'0.01 4.4'});


const t9Line = make('path', p1, {d:pathFrom(tempDays, temp9m, xLeft, yTemp), fill:'none', stroke:'#f58a2e', 'stroke-width':6, 'stroke-linejoin':'round'});


const t2Line = make('path', p1, {d:pathFrom(tempDays, temp2m, xLeft, yTemp), fill:'none', stroke:'#d7282b', 'stroke-width':6, 'stroke-linejoin':'round'});


drawLeftAxis(p1, 102, 430, tempTicks, tempMinorTicks, yTemp);
drawRightAxis(p1, 430, solarTicks, solarMinorTicks, ySolar);
drawAxes(p1, 102, 430, 399, 71, xLeft);

// ---- panel 2: winds and pressure ----
const p2 = document.getElementById('p2');
gustBins.forEach((bin, i) => {
  bin.forEach((v, j) => {
    const dot = make('circle', p2, {cx:xRight(i*windStepDays + j*windStepDays/(2*bin.length)).toFixed(2), cy:yWind(v).toFixed(2), r:2.8, fill:'#000'});
    
    
  });
});
gustBinsLate.forEach((bin, i) => {
  bin.forEach((v, j) => {
    const dot = make('circle', p2, {cx:xRight((i+.5)*windStepDays + j*windStepDays/(2*bin.length)).toFixed(2), cy:yWind(v).toFixed(2), r:2.8, fill:'#000'});
    
    
  });
});
let windPath = '';
windHigh.forEach((v, i) => {
  const day = i*windStepDays;
  windPath += (i ? 'L' : 'M') + xRight(day).toFixed(2) + ' ' + yWind(v).toFixed(2);
  windPath += 'L' + xRight(day + windStepDays/2).toFixed(2) + ' ' + yWind(windLow[i]).toFixed(2);
});
const windLine = make('path', p2, {d:windPath, fill:'none', stroke:'#5097d1', 'stroke-width':3.4, 'stroke-linejoin':'round'});


const pressureLine = make('path', p2, {d:pathFrom(pressureDays, pressureValues, xRight, yPressure), fill:'none', stroke:'#9b1c1f', 'stroke-width':5.2, 'stroke-linejoin':'round'});


drawLeftAxis(p2, 613, 942, windTicks, windMinorTicks, yWind);
drawRightAxis(p2, 942, pressureTicks, pressureMinorTicks, yPressure);
drawAxes(p2, 613, 942, 399, 71, xRight);

// ---- panel 3: humidity and rain ----
const p3 = document.getElementById('p3');
const humidityLine = make('path', p3, {d:pathFrom(humidityDays, humidityValues, xLeft, yHumidity), fill:'none', stroke:'#93cf55', 'stroke-width':5.4, 'stroke-linejoin':'round'});


const rainLine = make('path', p3, {d:pathFrom(rainDays, rainValues, xLeft, yRain), fill:'none', stroke:'#49b548', 'stroke-width':11.5, 'stroke-linejoin':'round', 'stroke-linecap':'round'});


drawLeftAxis(p3, 102, 430, humidityTicks, humidityMinorTicks, yHumidity);
drawRightAxis(p3, 430, rainTicks, rainMinorTicks, yRain, rainTickLabels);
drawAxes(p3, 102, 430, 860, 532, xLeft);

// ---- panel 4: wind direction ----
const p4 = document.getElementById('p4');
dirDays.forEach((d, i) => {
  const dot = make('circle', p4, {cx:xRight(d).toFixed(2), cy:yDirection(dirDegrees[i]).toFixed(2), r:3, fill:speedColor(dirSpeeds[i])});
  
  
});
directionTicks.forEach((v, i) => {
  const g = line(p4, 604, yDirection(v), 950, yDirection(v), 1.1);
  
  
  const t = label(p4, 596, yDirection(v)+5, directionLabels[i], 'end', 14.8);
  
  
});
drawAxes(p4, 613, 942, 860, 532, xRight);

// ---- speed legend ----
const legend = document.getElementById('legend');
const legendTitle = label(legend, 1007, 587, 'mph', 'middle', 15.5);


legendColors.forEach((c, i) => {
  const swatch = make('rect', legend, {x:953, y:(594 + i*20.45).toFixed(2), width:30, height:20.9, fill:c});
  
  
  const t = label(legend, 1007, (610.5 + i*20.45).toFixed(2), legendLabels[i], 'middle', 16);
  
  
});
</script>
</body>
</html>
